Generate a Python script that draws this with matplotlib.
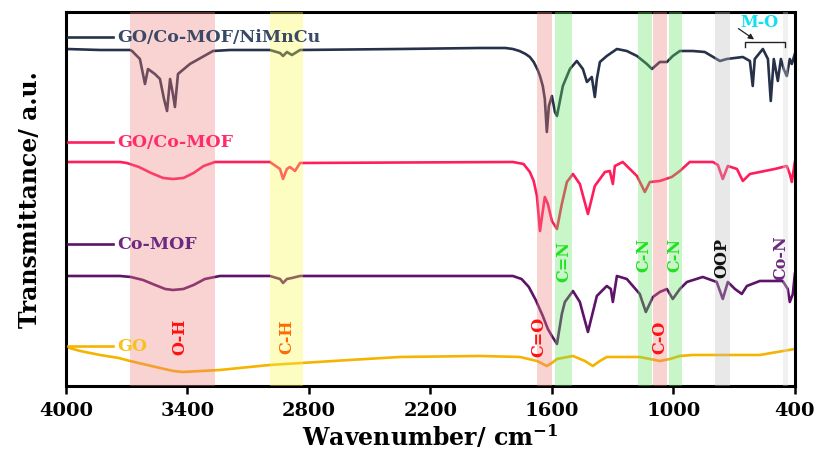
import matplotlib
matplotlib.use("Agg")
import matplotlib.pyplot as plt
import numpy as np

plt.rcParams['font.family'] = 'DejaVu Serif'
plt.rcParams['font.weight'] = 'bold'
plt.rcParams['mathtext.fontset'] = 'dejavuserif'

# spectra: wavenumber (cm-1) and transmittance (a.u., stacked)
wn_nimncu = [4000, 3832, 3684, 3674, 3635, 3610, 3595, 3561, 3536, 3516, 3501, 3486, 3472, 3462,
             3447, 3388, 3274, 3190, 2993, 2943, 2928, 2909, 2884, 2844, 2351, 1956, 1830, 1793,
             1760, 1730, 1709, 1690, 1670, 1659, 1645, 1635, 1625, 1615, 1600, 1585, 1575, 1546,
             1511, 1477, 1447, 1427, 1403, 1388, 1378, 1363, 1329, 1279, 1230, 1180, 1131, 1106,
             1067, 1032, 1003, 968, 953, 904, 845, 770, 736, 657, 622, 608, 598, 558, 533, 519,
             504, 484, 469, 455, 440, 425, 415, 400]
t_nimncu = [337, 336, 336, 335, 327, 302, 317, 312, 307, 287, 275, 307, 292, 279,
            312, 322, 335, 336, 336, 333, 330, 334, 331, 336, 337, 338, 338, 337,
            335, 332, 329, 324, 316, 310, 300, 287, 254, 280, 290, 274, 270, 300,
            317, 325, 317, 304, 309, 289, 307, 324, 330, 337, 335, 330, 322, 317,
            324, 324, 330, 335, 335, 335, 334, 325, 327, 329, 325, 300, 327, 337, 327, 285,
            327, 305, 327, 317, 310, 327, 322, 332]

wn_gocomof = [4000, 3733, 3700, 3640, 3580, 3520, 3472, 3420, 3370, 3320, 3264, 2993, 2943, 2928,
              2909, 2894, 2869, 2844, 1793, 1740, 1709, 1690, 1674, 1659, 1635, 1620, 1600, 1575,
              1551, 1526, 1496, 1462, 1422, 1388, 1338, 1314, 1299, 1289, 1250, 1180, 1141, 1116,
              1067, 1008, 968, 919, 805, 780, 756, 731, 686, 657, 622, 573, 499, 440, 425, 415, 400]
t_gocomof = [224, 224, 223, 219, 213, 208, 207, 208, 213, 220, 224, 224, 217, 207,
             217, 219, 215, 223, 224, 222, 214, 205, 190, 155, 189, 182, 165, 157,
             182, 204, 212, 202, 172, 200, 214, 215, 202, 220, 224, 210, 194, 204,
             205, 209, 215, 224, 224, 221, 207, 220, 217, 205, 212, 214, 217, 220, 212, 204, 224]

wn_comof = [4000, 3733, 3680, 3620, 3560, 3510, 3472, 3420, 3370, 3314, 3240, 2993, 2943, 2928,
            2909, 2884, 2844, 1793, 1750, 1714, 1680, 1645, 1620, 1600, 1575, 1551, 1536, 1496,
            1462, 1422, 1378, 1329, 1309, 1299, 1279, 1230, 1166, 1136, 1101, 1067, 1032, 1003,
            968, 933, 855, 786, 756, 731, 696, 662, 637, 573, 460, 435, 425, 410, 400]
t_comof = [110, 110, 109, 106, 101, 97, 96, 97, 101, 107, 110, 110, 107, 103,
           107, 108, 110, 110, 107, 99, 86, 70, 57, 50, 42, 72, 84, 95,
           84, 54, 90, 100, 97, 84, 110, 107, 92, 74, 89, 94, 97, 87,
           97, 104, 109, 104, 87, 104, 97, 92, 100, 105, 105, 97, 84, 92, 112]

wn_go = [4000, 3931, 3832, 3740, 3684, 3600, 3536, 3470, 3422, 3330, 3240, 2993, 2598, 2351, 1956,
         1758, 1674, 1625, 1600, 1575, 1496, 1437, 1398, 1363, 1329, 1166, 1116, 1067, 1017, 968,
         904, 573, 400]
t_go = [39, 35, 31, 28, 25, 21, 18, 15, 14, 15, 16, 21, 26, 29, 30,
        29, 25, 20, 23, 27, 30, 25, 20, 25, 29, 29, 27, 25, 27, 30,
        31, 31, 37]

series_names = ['GO/Co-MOF/NiMnCu', 'GO/Co-MOF', 'Co-MOF', 'GO']
series_colors = ['#27324a', '#ff1d5c', '#5d1368', '#f5b400']
label_colors = ['#3a4a66', '#ff2c6a', '#6b2a80', '#f7c21a']
label_levels = [349, 244, 142, 40]

# assignment bands (wavenumber ranges)
band_ranges = [(3684, 3264), (2993, 2830), (1674, 1600), (1585, 1501), (1175, 1106),
               (1101, 1032), (1022, 958), (795, 721), (460, 435)]
band_colors = ['#f08080', '#fafa50', '#f08080', '#64e664', '#64e664',
               '#f08080', '#64e664', '#bebebe', '#d8d8d8']

band_labels = ['O-H', 'C-H', 'C=O', 'C=N', 'C-N', 'C-O', 'C-N', 'OOP', 'Co-N']
band_label_x = [3437, 2909, 1662, 1541, 1146, 1067, 993, 761, 468]
band_label_y = [50, 50, 50, 125, 132, 50, 132, 129, 129]
band_label_colors = ['#ff1010', '#ff6a00', '#ff1010', '#22e022', '#22e022',
                     '#ff1010', '#22e022', '#111111', '#6b2a80']

fig = plt.figure(figsize=(8.18, 4.64), dpi=100)
ax = fig.add_axes([0.0807, 0.166, 0.891, 0.806])

spectra = [(wn_nimncu, t_nimncu), (wn_gocomof, t_gocomof), (wn_comof, t_comof), (wn_go, t_go)]
for (wn, t), c in zip(spectra, series_colors):
    ax.plot(wn, t, color=c, lw=1.9, zorder=2, solid_joinstyle='round')

for (a, b), c in zip(band_ranges, band_colors):
    ax.axvspan(a, b, color=c, alpha=0.35, lw=0, zorder=3)

# curve labels with short line in front
for name, c, tc, lv in zip(series_names, series_colors, label_colors, label_levels):
    ax.plot([3990, 3768], [lv, lv], color=c, lw=1.9, zorder=4)
    ax.text(3745, lv, name, color=tc, fontsize=12.5, fontweight='bold',
            va='center', ha='left', zorder=5)

for lab, x, y, c in zip(band_labels, band_label_x, band_label_y, band_label_colors):
    ax.text(x, y, lab, color=c, fontsize=11.5, fontweight='bold', rotation=90,
            ha='center', va='center', zorder=5)

# M-O bracket
ax.plot([647, 647, 450, 450], [339, 344, 344, 339], color='#222222', lw=1.0, zorder=5)
ax.annotate('', xy=(590, 345), xytext=(690, 359),
            arrowprops=dict(arrowstyle='-|>', color='#222222', lw=0.9, mutation_scale=8), zorder=5)
ax.text(575, 364, 'M-O', color='#12e0ee', fontsize=11.5, fontweight='bold',
        ha='center', va='center', zorder=5)

ax.set_xlim(4000, 400)
ax.set_ylim(0, 374)
ax.set_xticks([4000, 3400, 2800, 2200, 1600, 1000, 400])
ax.set_yticks([])
ax.tick_params(axis='x', direction='out', length=6, width=1.8, labelsize=14, pad=5)
for s in ax.spines.values():
    s.set_linewidth(2.2)
ax.set_xlabel(r'Wavenumber/ cm$^{\mathbf{-1}}$', fontsize=17, fontweight='bold', labelpad=2)
ax.set_ylabel('Transmittance/ a.u.', fontsize=17, fontweight='bold', labelpad=17)

fig.savefig('out.png', dpi=100)
